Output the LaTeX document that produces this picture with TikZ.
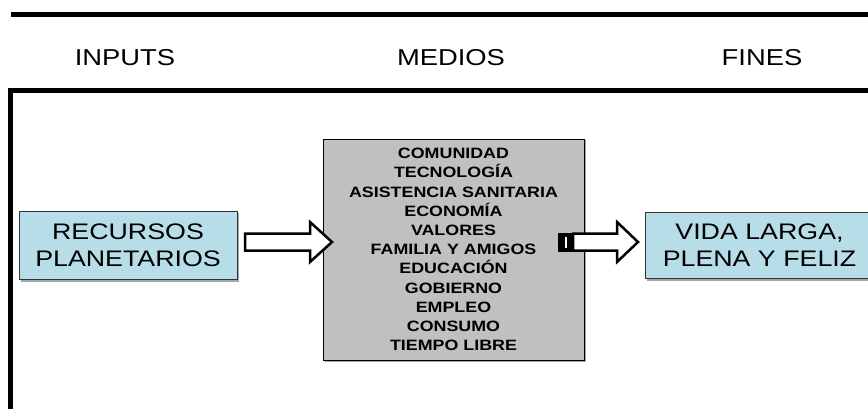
\documentclass[tikz,border=0pt]{standalone}
\usepackage{fontspec}
\setmainfont{Liberation Sans}[FakeStretch=1.19]
\definecolor{boxblue}{RGB}{183,222,232}
\definecolor{boxgray}{RGB}{192,192,192}
\begin{document}
\begin{tikzpicture}[x=1pt,y=-1pt,
  header/.style={anchor=base,font=\fontsize{23}{27}\selectfont,inner sep=0pt},
  bluebox/.style={draw=black!80,line width=0.9pt,fill=boxblue,align=center,
    minimum height=68pt,inner sep=0pt,
    font=\fontsize{22.5}{27.5}\selectfont},
  graybox/.style={draw=black,line width=0.9pt,fill=boxgray,align=center,
    minimum width=261pt,minimum height=221pt,inner sep=0pt,
    font=\bfseries\fontsize{15}{19.2}\selectfont},
  blockarrow/.style={draw=black,line width=2.5pt,fill=white,line join=miter},
  rule/.style={line width=5pt,line join=miter,draw=black}]
\useasboundingbox (0,0) rectangle (868,409);
\clip (0,0) rectangle (868,409);
\fill[white] (0,0) rectangle (868,409);
% frame lines
\draw[rule] (11,14.5) -- (880,14.5);
\draw[rule] (10.5,420) -- (10.5,90.5) -- (880,90.5);
% headers
\node[header] (inp) at (125,66) {INPUTS};
\node[header] (med) at (451,66) {MEDIOS};
\node[header] (fin) at (762,66) {FINES};
% boxes (shadows)
\fill[black!35] (20.5,212.5) rectangle (238.5,281.5);
\fill[black!35] (646.5,213.5) rectangle (880,280.5);
\fill[black!35] (324.5,140.5) rectangle (585.5,361.5);
\node[bluebox,minimum width=218pt] (rec) at (128,245.5) {RECURSOS\\PLANETARIOS};
\node[bluebox,minimum width=229pt,minimum height=66pt] (vida) at (759.5,245) {VIDA LARGA,\\PLENA Y FELIZ};
\node[graybox] (med) at (453.5,249.5) {COMUNIDAD\\TECNOLOGÍA\\ASISTENCIA SANITARIA\\ECONOMÍA\\VALORES\\FAMILIA Y AMIGOS\\EDUCACIÓN\\GOBIERNO\\EMPLEO\\CONSUMO\\TIEMPO LIBRE};
% left block arrow
\draw[blockarrow] (245,233.5) -- (310,233.5) -- (310,222) -- (332,242) -- (310,262) -- (310,250.5) -- (245,250.5) -- cycle;
% right striped block arrow
\fill[black] (557.5,232.5) rectangle (572,251.5);
\fill[white] (564.5,236.5) rectangle (566.8,247.5);
\draw[blockarrow] (573,233.5) -- (617,233.5) -- (617,222) -- (638,242) -- (617,262) -- (617,250.5) -- (573,250.5) -- cycle;
\end{tikzpicture}
\end{document}
